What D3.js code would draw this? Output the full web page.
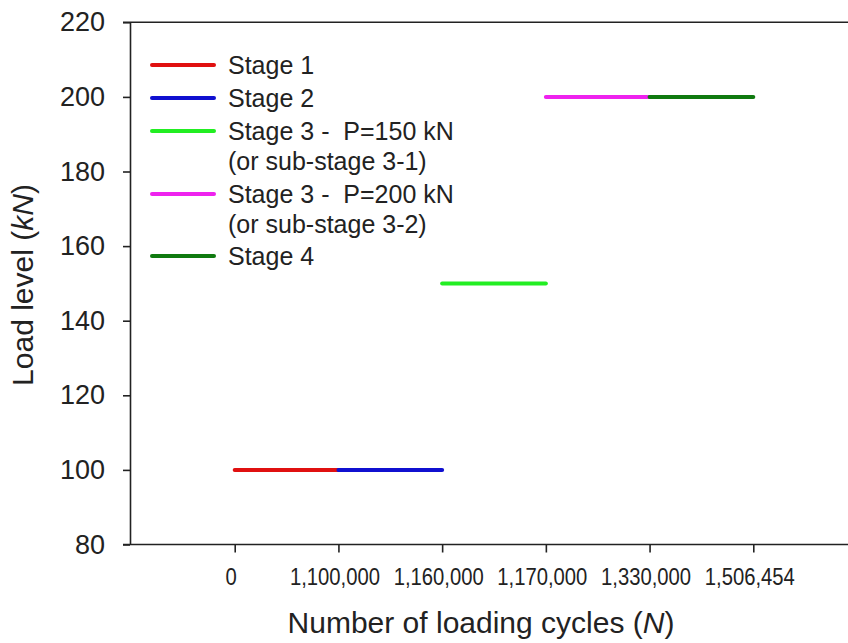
<!DOCTYPE html>
<html>
<head>
<meta charset="utf-8">
<script src="https://cdn.jsdelivr.net/npm/d3@7"></script>
<style>
  html, body { margin: 0; padding: 0; background: #fff; }
  svg { display: block; font-family: "Liberation Sans", Arial, sans-serif; }
</style>
</head>
<body>
<svg id="chart" width="848" height="643"></svg>
<script>
// ---- data ----
const cycleLabels = ["0", "1,100,000", "1,160,000", "1,170,000", "1,330,000", "1,506,454"];
const stageNames = ["Stage 1", "Stage 2", "Stage 3 -  P=150 kN", "Stage 3 -  P=200 kN", "Stage 4"];
const stageSubNames = ["", "", "(or sub-stage 3-1)", "(or sub-stage 3-2)", ""];
const stageStart = ["0", "1,100,000", "1,160,000", "1,170,000", "1,330,000"];
const stageEnd = ["1,100,000", "1,160,000", "1,170,000", "1,330,000", "1,506,454"];
const stageLoad = [100, 100, 150, 200, 200];
const stageColors = ["#e01010", "#1010d0", "#22ee22", "#ee22ee", "#107a10"];
const yTicks = [80, 100, 120, 140, 160, 180, 200, 220];

// ---- layout ----
const svg = d3.select("#chart");
const axisColor = "#222";
const x = d3.scalePoint().domain(cycleLabels).range([131, 857]).padding(1);
const y = d3.scaleLinear().domain([80, 220]).range([544.5, 22.3]);
const xAxisLeft = 123, xAxisRight = 848;

// top frame line
svg.append("line")
  .attr("x1", xAxisLeft).attr("x2", xAxisRight)
  .attr("y1", y(220)).attr("y2", y(220))
  .attr("stroke", axisColor).attr("stroke-width", 1.6);

// bottom axis
svg.append("line")
  .attr("x1", xAxisLeft).attr("x2", xAxisRight)
  .attr("y1", y(80)).attr("y2", y(80))
  .attr("stroke", axisColor).attr("stroke-width", 1.6);

const gx = svg.append("g")
  .attr("transform", `translate(0,${y(80)})`)
  .call(d3.axisBottom(x).tickSize(8).tickPadding(16).tickSizeOuter(0));
gx.select(".domain").remove();
gx.selectAll(".tick line").attr("stroke", axisColor).attr("stroke-width", 1.6);
gx.selectAll(".tick text")
  .attr("fill", "#222")
  .attr("font-size", 23)
  .attr("transform", "translate(-4,0) scale(0.88,1)");

// left axis
const gy = svg.append("g")
  .attr("transform", `translate(130,0)`)
  .call(d3.axisLeft(y).tickValues(yTicks).tickSize(7).tickPadding(18).tickSizeOuter(0));
gy.select(".domain").attr("stroke", axisColor).attr("stroke-width", 1.6);
gy.selectAll(".tick line").attr("stroke", axisColor).attr("stroke-width", 1.6);
gy.selectAll(".tick text").attr("fill", "#222").attr("font-size", 27);

// axis titles
const xTitle = svg.append("text")
  .attr("x", 481).attr("y", 633)
  .attr("text-anchor", "middle")
  .attr("font-size", 30)
  .attr("fill", "#222");
xTitle.append("tspan").text("Number of loading cycles (");
xTitle.append("tspan").attr("font-style", "italic").text("N");
xTitle.append("tspan").text(")");

const yTitle = svg.append("text")
  .attr("transform", "translate(33,285) rotate(-90)")
  .attr("text-anchor", "middle")
  .attr("font-size", 30)
  .attr("fill", "#222");
yTitle.append("tspan").text("Load level (");
yTitle.append("tspan").attr("font-style", "italic").text("kN");
yTitle.append("tspan").text(")");

// segments
const segs = stageNames.map((n, i) => ({
  start: stageStart[i], end: stageEnd[i], load: stageLoad[i], color: stageColors[i]
}));
svg.append("g").selectAll("line")
  .data(segs)
  .join("line")
  .attr("x1", d => x(d.start))
  .attr("x2", d => x(d.end))
  .attr("y1", d => y(d.load))
  .attr("y2", d => y(d.load))
  .attr("stroke", d => d.color)
  .attr("stroke-width", 4)
  .attr("stroke-linecap", "round");

// legend
const legendRows = [65, 98, 131, 194, 256];
const lg = svg.append("g");
stageNames.forEach((name, i) => {
  const ly = legendRows[i];
  lg.append("line")
    .attr("x1", 152).attr("x2", 214)
    .attr("y1", ly).attr("y2", ly)
    .attr("stroke", stageColors[i])
    .attr("stroke-width", 4)
    .attr("stroke-linecap", "round");
  lg.append("text")
    .attr("x", 228).attr("y", ly + 9)
    .attr("font-size", 25)
    .attr("fill", "#222")
    .style("white-space", "pre")
    .text(name);
  if (stageSubNames[i]) {
    lg.append("text")
      .attr("x", 228).attr("y", ly + 39)
      .attr("font-size", 25)
      .attr("fill", "#222")
      .text(stageSubNames[i]);
  }
});
</script>
</body>
</html>
